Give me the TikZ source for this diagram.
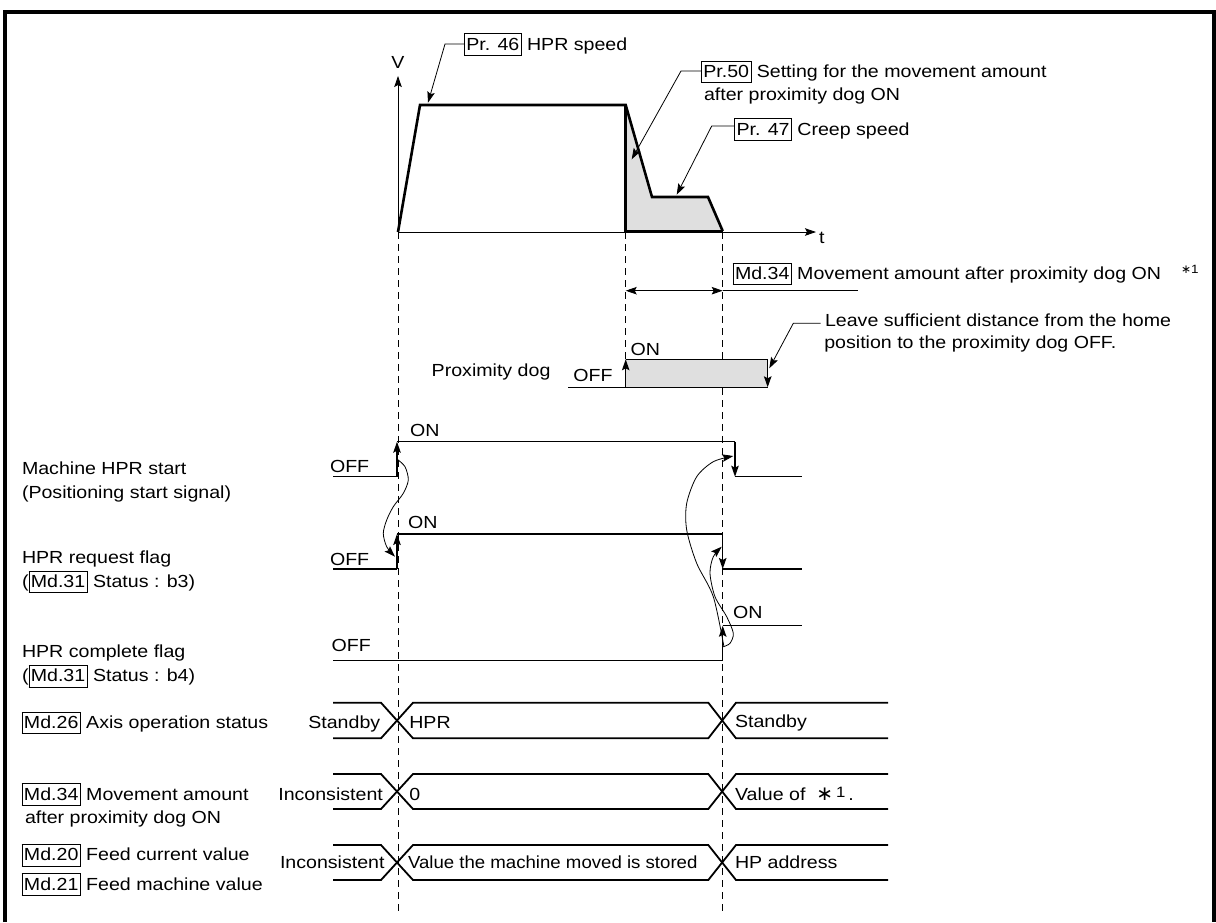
\documentclass[tikz,border=0pt]{standalone}
\usepackage{fontspec}
\setmainfont{Liberation Sans}[FakeStretch=1.12]
\newfontfamily\djv{DejaVu Sans}
\usetikzlibrary{arrows.meta}
\newcommand\bx[1]{{\fboxsep=1.5pt\fboxrule=0.8pt\fbox{\rule[-3.5pt]{0pt}{18pt}#1}}}
\tikzset{
  txt/.style={anchor=base west, inner sep=0pt, outer sep=0pt},
  ctxt/.style={anchor=base, inner sep=0pt, outer sep=0pt},
  frame/.style={line width=3.5pt, line join=miter},
  sig/.style={line width=1.3pt},
  bus/.style={line width=1.8pt},
  thinline/.style={line width=0.8pt},
  dashline/.style={line width=0.9pt, dash pattern=on 7pt off 5pt},
  profile/.style={line width=2.6pt, line join=miter},
  arr/.style={-{Stealth[length=11pt,width=7.5pt,inset=2pt]}},
  darr/.style={{Stealth[length=11pt,width=7.5pt,inset=2pt]}-{Stealth[length=11pt,width=7.5pt,inset=2pt]}},
  shade/.style={fill=gray!25}
}
\begin{document}
\begin{tikzpicture}[x=1pt,y=-1pt,font=\fontsize{17.5}{21}\selectfont]
\useasboundingbox (0,0) rectangle (1216,922);
% frame
\draw[frame] (5,922) -- (5,12) -- (1214,12) -- (1214,922);

% ---------------- speed graph ----------------
\coordinate (O) at (398,232);
\coordinate (Vtop) at (398,76);
\coordinate (tend) at (816,232);
\coordinate (p1) at (420,105);
\coordinate (p2) at (625.7,105);
\coordinate (p3) at (652,197);
\coordinate (p4) at (708,197);
\coordinate (p5) at (722.7,231);
\coordinate (p6) at (625.7,231);
\fill[shade] (p2) -- (p3) -- (p4) -- (p5) -- (p6) -- cycle;
\draw[thinline,arr] (O) -- (Vtop);
\draw[thinline,arr] (O) -- (tend);
\draw[profile] (O) -- (p1) -- (p2) -- (p3) -- (p4) -- (p5);
\draw[profile] (p5) -- (p6) -- (p2);
\node[ctxt] (Vlab) at (398,68.3) {V};
\node[txt] (tlab) at (819,243.3) {t};

% labels with leaders
\node[txt] (pr46) at (464,50) {\bx{Pr. 46} HPR speed};
\coordinate (l46a) at (464,44);
\coordinate (l46b) at (445,44);
\coordinate (l46c) at (428,102.7);
\draw[thinline,arr] (l46a) -- (l46b) -- (l46c);

\node[txt] (pr50) at (701,77.3) {\bx{Pr.50} Setting for the movement amount};
\node[txt] (pr50b) at (704,100) {after proximity dog ON};
\coordinate (l50a) at (701,71);
\coordinate (l50b) at (681,71);
\coordinate (l50c) at (631.7,159.3);
\draw[thinline,arr] (l50a) -- (l50b) -- (l50c);

\node[txt] (pr47) at (734.3,135) {\bx{Pr. 47} Creep speed};
\coordinate (l47a) at (734.3,126);
\coordinate (l47b) at (711.7,126);
\coordinate (l47c) at (676.7,194.7);
\draw[thinline,arr] (l47a) -- (l47b) -- (l47c);

% dashed verticals
\coordinate (dA1) at (398,232);   \coordinate (dA2) at (398,911);
\coordinate (dB1) at (625.7,232); \coordinate (dB2) at (625.7,359.3);
\coordinate (dC1) at (722.7,232); \coordinate (dC2) at (722.7,912);
\draw[dashline] (dA1) -- (dA2);
\draw[dashline] (dB1) -- (dB2);
\draw[dashline] (dC1) -- (dC2);

% movement amount dimension
\coordinate (m1) at (625.7,290.7);
\coordinate (m2) at (722.7,290.7);
\coordinate (m3) at (858,290.7);
\draw[thinline,darr] (m1) -- (m2);
\draw[thinline] (m2) -- (m3);
\node[txt] (md34t) at (732.7,279.3) {\bx{Md.34} Movement amount after proximity dog ON};
\node[txt] (star1) at (1181,273) {\fontsize{12}{12}\selectfont{\djv ∗}1};

% ---------------- proximity dog ----------------
\coordinate (dog0) at (568.3,387.3);
\coordinate (dog1) at (625.7,387.3);
\coordinate (dog2) at (625.7,359.3);
\coordinate (dog3) at (767.7,359.3);
\coordinate (dog4) at (767.7,387.3);
\fill[shade] (dog1) rectangle (dog3);
\draw[sig] (dog0) -- (dog4);
\draw[sig,arr] (dog1) -- (dog2);
\draw[sig] (dog2) -- (dog3);
\draw[sig,arr] (dog3) -- (dog4);
\node[txt] (doglab) at (431.7,376.7) {Proximity dog};
\node[txt] (dogoff) at (573.3,381.7) {OFF};
\node[txt] (dogon) at (630.7,355) {ON};
\node[txt] (leave1) at (825,326.7) {Leave sufficient distance from the home};
\node[txt] (leave2) at (824.3,348.3) {position to the proximity dog OFF.};
\coordinate (lva) at (820.7,323.3);
\coordinate (lvb) at (793.3,323.3);
\coordinate (lvc) at (769.3,368.3);
\draw[thinline,arr] (lva) -- (lvb) -- (lvc);

% ---------------- Machine HPR start ----------------
\node[txt] (ms1) at (22,474) {Machine HPR start};
\node[txt] (ms2) at (22,498) {(Positioning start signal)};
\node[txt] (msoff) at (330,472.5) {OFF};
\node[txt] (mson) at (410,436.7) {ON};
\coordinate (s0) at (333,476.7);
\coordinate (s1) at (397,476.7);
\coordinate (s2) at (397,441.7);
\coordinate (s3) at (735,441.7);
\coordinate (s4) at (735,476.7);
\coordinate (s5) at (801.7,476.7);
\draw[sig] (s0) -- (s1);
\draw[sig,arr] (s1) -- (s2);
\draw[sig] (s2) -- (s3);
\draw[sig,arr] (s3) -- (s4);
\draw[sig] (s4) -- (s5);

% ---------------- HPR request flag ----------------
\node[txt] (rq1) at (22,563.3) {HPR request flag};
\node[txt] (rq2) at (22,587.3) {(\bx{Md.31} Status : b3)};
\node[txt] (rqoff) at (330,565) {OFF};
\node[txt] (rqon) at (408,528.3) {ON};
\coordinate (r0) at (333,569);
\coordinate (r1) at (397,569);
\coordinate (r2) at (397,534);
\coordinate (r3) at (722.7,534);
\coordinate (r4) at (722.7,569);
\coordinate (r5) at (801.7,569);
\draw[sig] (r0) -- (r1);
\draw[sig,arr] (r1) -- (r2);
\draw[sig] (r2) -- (r3);
\draw[sig,arr] (r3) -- (r4);
\draw[sig] (r4) -- (r5);

% ---------------- HPR complete flag ----------------
\node[txt] (cp1) at (22,657.3) {HPR complete flag};
\node[txt] (cp2) at (22,681.7) {(\bx{Md.31} Status : b4)};
\node[txt] (cpoff) at (331.7,651.7) {OFF};
\node[txt] (cpon) at (733,618.3) {ON};
\coordinate (c0) at (333,660.7);
\coordinate (c1) at (722.7,660.7);
\coordinate (c2) at (722.7,625.7);
\coordinate (c3) at (801.7,625.7);
\draw[sig] (c0) -- (c1);
\draw[sig,arr] (c1) -- (c2);
\draw[sig] (c2) -- (c3);

% causal curves
\draw[thinline,arr] plot[smooth] coordinates {(397.3,459.3) (405,466.7) (408.3,480) (403.3,493.3) (393.3,506.7) (386.7,520) (383.3,533.3) (386.7,546.7) (395,556.7)};
\draw[thinline,arr] plot[smooth] coordinates {(724,647) (713.3,596.7) (696.7,563.3) (686.7,530) (686.7,503.3) (696.7,476.7) (713.3,461.7) (733.3,456)};
\draw[thinline,arr] plot[smooth] coordinates {(723.3,646.7) (730,643.3) (733.3,633.3) (726.7,616.7) (715,596.7) (710,573.3) (713.3,556.7) (721.7,546.7)};

% ---------------- bus rows ----------------
% row A
\draw[bus] (333,702.7) -- (381,702.7) -- (413,738.3) -- (708.3,738.3) -- (736,702.7) -- (888,702.7);
\draw[bus] (333,738.3) -- (381,738.3) -- (413,702.7) -- (708.3,702.7) -- (736,738.3) -- (888,738.3);
\node[txt] (ra0) at (21.7,728.3) {\bx{Md.26} Axis operation status};
\node[txt] (ra1) at (308.3,728.3) {Standby};
\node[txt] (ra2) at (409.3,728.3) {HPR};
\node[txt] (ra3) at (735,727.3) {Standby};
% row B
\draw[bus] (333,774) -- (381,774) -- (413,809) -- (708.3,809) -- (736,774) -- (888,774);
\draw[bus] (333,809) -- (381,809) -- (413,774) -- (708.3,774) -- (736,809) -- (888,809);
\node[txt] (rb0) at (21.7,800) {\bx{Md.34} Movement amount};
\node[txt] (rb0b) at (25,823.3) {after proximity dog ON};
\node[txt] (rb1) at (278.3,800) {Inconsistent};
\node[txt] (rb2) at (409.3,800) {0};
\node[txt] (rb3) at (735,800) {Value of \ {\fontsize{20}{20}\selectfont\djv ∗}\,\raisebox{3pt}{\fontsize{15}{15}\selectfont 1}\,.};
% row C
\draw[bus] (333,845) -- (381,845) -- (413,880) -- (708.3,880) -- (736,845) -- (888,845);
\draw[bus] (333,880) -- (381,880) -- (413,845) -- (708.3,845) -- (736,880) -- (888,880);
\node[txt] (rc0) at (21.7,860.7) {\bx{Md.20} Feed current value};
\node[txt] (rc0b) at (21.7,890) {\bx{Md.21} Feed machine value};
\node[txt] (rc1) at (280,868.3) {Inconsistent};
\node[txt] (rc2) at (408,868.3) {\scalebox{0.95}[1]{Value the machine moved is stored}};
\node[txt] (rc3) at (735,868.3) {HP address};
\end{tikzpicture}
\end{document}
